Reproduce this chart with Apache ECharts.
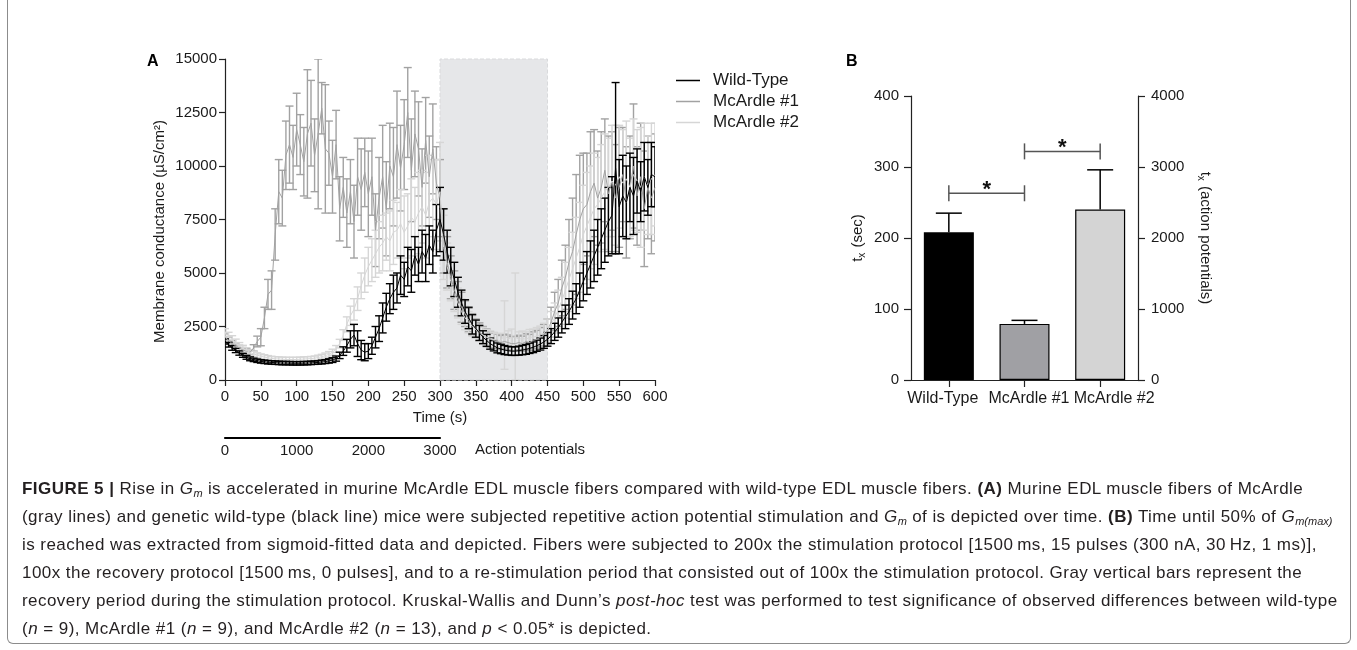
<!DOCTYPE html>
<html>
<head>
<meta charset="utf-8">
<script src="https://cdn.jsdelivr.net/npm/echarts@6/dist/echarts.min.js"></script>
<style>
html, body { margin: 0; padding: 0; background: #fff; width: 1357px; height: 650px; overflow: hidden; }
#chart { position: absolute; left: 0; top: 0; width: 1357px; height: 470px; }
#frame { position: absolute; left: 7px; top: -10px; width: 1344px; height: 654px; border: 1.5px solid #8c8c8c; border-top: none; border-radius: 0 0 6px 6px; box-sizing: border-box; pointer-events: none; }
#caption { position: absolute; left: 22px; top: 475px; font-family: 'Liberation Sans', Arial, sans-serif; font-size: 17px; letter-spacing: 0.45px; line-height: 28px; color: #231f20; white-space: nowrap; }
#caption sub { font-size: 11px; vertical-align: -3px; line-height: 0; letter-spacing: 0; }
</style>
</head>
<body>
<div id="chart"></div>
<div id="frame"></div>
<div id="caption">
<b>FIGURE 5 |</b> Rise in <i>G<sub>m</sub></i> is accelerated in murine McArdle EDL muscle fibers compared with wild-type EDL muscle fibers. <b>(A)</b> Murine EDL muscle fibers of McArdle<br>
(gray lines) and genetic wild-type (black line) mice were subjected repetitive action potential stimulation and <i>G<sub>m</sub></i> of is depicted over time. <b>(B)</b> Time until 50% of <i>G<sub>m(max)</sub></i><br>
is reached was extracted from sigmoid-fitted data and depicted. Fibers were subjected to 200x the stimulation protocol [1500&thinsp;ms, 15 pulses (300 nA, 30&thinsp;Hz, 1 ms)],<br>
100x the recovery protocol [1500&thinsp;ms, 0 pulses], and to a re-stimulation period that consisted out of 100x the stimulation protocol. Gray vertical bars represent the<br>
recovery period during the stimulation protocol. Kruskal-Wallis and Dunn’s <i>post-hoc</i> test was performed to test significance of observed differences between wild-type<br>
(<i>n</i> = 9), McArdle #1 (<i>n</i> = 9), and McArdle #2 (<i>n</i> = 13), and <i>p</i> &lt; 0.05* is depicted.
</div>
<script>
// panel A: samples every 5 s, 0..600 s
const timeStep = 5;

const wtMean = [
  1800, 1650, 1500, 1380, 1260, 1150, 1060, 990, 940, 900, 870, 850,
  830, 820, 810, 800, 790, 790, 785, 780, 780, 780, 785, 790,
  800, 810, 820, 840, 860, 890, 930, 1000, 1150, 1350, 1600, 1900,
  2100, 1700, 1400, 1300, 1350, 1600, 2000, 2400, 2900, 3400, 3800, 4100,
  4300, 4900, 4700, 5300, 5100, 5800, 5400, 6000, 5700, 6300, 6000, 7000,
  7500, 6800, 6000, 5300, 4700, 4100, 3600, 3200, 2900, 2600, 2400, 2200,
  2000, 1850, 1700, 1600, 1500, 1450, 1400, 1370, 1350, 1350, 1370, 1400,
  1430, 1480, 1530, 1600, 1680, 1780, 1900, 2050, 2250, 2450, 2700, 2950,
  3200, 3500, 3800, 4200, 4600, 5000, 5400, 5800, 6200, 6600, 7000, 7400,
  7700, 9900, 8100, 8600, 8300, 9000, 8600, 9300, 8800, 9500, 9000, 9600,
  9500
];
const wtErr = [
  120, 110, 110, 100, 100, 90, 90, 90, 80, 80, 80, 80,
  80, 80, 80, 80, 80, 80, 80, 80, 80, 80, 80, 80,
  80, 80, 80, 90, 90, 100, 110, 120, 150, 200, 300, 400,
  500, 600, 450, 400, 350, 400, 500, 600, 700, 650, 700, 800,
  700, 900, 800, 900, 1000, 900, 800, 1000, 1100, 900, 1000, 1200,
  1500, 1200, 1000, 900, 800, 700, 600, 550, 500, 450, 400, 350,
  300, 280, 260, 240, 230, 220, 210, 200, 200, 200, 210, 220,
  230, 240, 250, 260, 280, 300, 320, 350, 400, 450, 500, 550,
  600, 650, 700, 800, 900, 1000, 1100, 1200, 1300, 1400, 1500, 1600,
  1800, 4000, 2200, 1900, 1700, 1600, 1800, 1500, 1400, 1600, 1300, 1500,
  1400
];

const mc1Mean = [
  2000, 1850, 1700, 1600, 1500, 1400, 1350, 1300, 1500, 1800, 2000, 2900,
  4000, 4200, 6800, 8800, 8500, 10500, 11000, 10400, 11700, 11000, 10200, 11500,
  12000, 10500, 11500, 12700, 10800, 10600, 9500, 11000, 8000, 9000, 7800, 8800,
  7400, 9500, 8900, 9700, 8700, 9500, 7000, 8500, 9500, 8000, 10000, 9500,
  11000, 9900, 11000, 12500, 9800, 11500, 10800, 9000, 11200, 9500, 10800, 9200,
  8500, 6500, 5500, 4800, 4200, 3800, 3400, 3100, 2800, 2600, 2400, 2250,
  2100, 2000, 1900, 1850, 1800, 1750, 1800, 1750, 1700, 1700, 1750, 1700,
  1800, 1750, 1850, 1900, 2000, 2100, 2300, 2700, 3200, 3600, 4300, 4800,
  5500, 6000, 6800, 7500, 8000, 8200, 8800, 9200, 8500, 9000, 9800, 8700,
  9300, 8500, 9000, 9600, 8300, 9000, 10000, 8600, 9500, 8000, 9000, 8500,
  9000
];
const mc1Err = [
  150, 150, 140, 130, 120, 120, 110, 110, 150, 250, 400, 500,
  700, 900, 1200, 1500, 1300, 1600, 1800, 1500, 1700, 1400, 1600, 3000,
  2000, 1700, 3500, 1200, 3000, 1500, 1700, 1600, 1500, 1400, 1600, 1500,
  1700, 1800, 1900, 1600, 2000, 1800, 1700, 1900, 2400, 2200, 2000, 2300,
  2500, 2000, 2100, 2100, 2400, 2000, 2200, 1800, 2000, 1900, 2100, 1700,
  1800, 1500, 1200, 1000, 900, 800, 700, 600, 550, 500, 450, 420,
  400, 380, 360, 350, 340, 330, 340, 350, 330, 330, 340, 350,
  360, 380, 400, 420, 450, 500, 550, 700, 900, 1100, 1300, 1500,
  2000, 2500, 2800, 3000, 2600, 2400, 2800, 2500, 2200, 2600, 2400, 2700,
  2300, 2500, 2800, 2200, 2600, 2400, 2900, 2300, 2500, 2700, 2400, 2600,
  2500
];

const mc2Mean = [
  2200, 2050, 1900, 1750, 1600, 1480, 1380, 1290, 1220, 1160, 1110, 1070,
  1040, 1010, 990, 980, 970, 960, 960, 960, 960, 970, 980, 990,
  1000, 1020, 1050, 1090, 1140, 1200, 1300, 1450, 1700, 2100, 2600, 3000,
  3300, 3800, 4400, 4900, 5300, 5600, 5900, 6200, 6400, 6700, 6500, 6900,
  7000, 7300, 6900, 7200, 7600, 7400, 7800, 8100, 7700, 8300, 8500, 8200,
  8800, 6200, 5300, 4600, 4000, 3600, 3200, 2900, 2700, 2500, 2350, 2200,
  2100, 2000, 1950, 1900, 1850, 1850, 2100, 1900, 2000, 2000, 1900, 1950,
  1900, 2000, 2000, 2050, 2100, 2200, 2350, 2600, 2900, 3300, 3700, 4200,
  4700, 5200, 5700, 6200, 6800, 7200, 7600, 8000, 8200, 8500, 8800, 9000,
  9300, 9100, 9500, 9200, 9400, 9000, 9600, 9300, 9000, 9500, 9100, 9400,
  9600
];
const mc2Err = [
  200, 180, 170, 160, 150, 140, 130, 120, 120, 110, 110, 110,
  100, 100, 100, 100, 100, 100, 100, 100, 100, 100, 100, 100,
  100, 100, 110, 110, 120, 130, 140, 160, 200, 250, 350, 450,
  500, 550, 600, 800, 900, 1000, 1100, 1200, 1300, 1100, 1400, 1500,
  1300, 1600, 1700, 1500, 1800, 1600, 1900, 1700, 2000, 2200, 1800, 2100,
  2300, 1500, 1100, 900, 800, 700, 600, 550, 500, 450, 400, 380,
  360, 350, 340, 330, 320, 330, 1600, 400, 380, 3000, 350, 340,
  350, 360, 380, 400, 420, 450, 500, 600, 700, 900, 1100, 1300,
  1500, 1700, 1900, 2100, 2300, 2500, 2400, 2600, 2200, 2500, 2700, 2300,
  2600, 2800, 2400, 2500, 2700, 2300, 2600, 2400, 2800, 2500, 2300, 2600,
  2400
];

const recoveryWindow = [300, 450];
const apTicks = [0, 3000];

// panel B
const groups = ['Wild-Type', 'McArdle #1', 'McArdle #2'];
const txMean = [208, 79, 240];
const txErr = [27, 5, 56];
const sigPairs = [[0, 1, 263], [1, 2, 322]];

const FONT = "'Liberation Sans', Arial, sans-serif";
const TXT = '#1a1a1a';
const C_WT = '#000000', C_M1 = '#a2a2a2', C_M2 = '#d6d6d6';
const barColors = ['#000000', '#a0a0a4', '#d4d4d4'];

const myChart = echarts.init(document.getElementById('chart'));

const toLine = arr => arr.map((v, i) => [i * timeStep, v]);
const toErr = (m, e) => m.map((v, i) => [i * timeStep, v, e[i]]);
const plain = v => String(v);

function errRender(params, api) {
  const x = api.value(0), m = api.value(1), e = api.value(2);
  const hi = api.coord([x, m + e]);
  const lo = api.coord([x, Math.max(m - e, 0)]);
  const w = 4;
  const style = { stroke: api.visual('color'), lineWidth: 1.4, fill: null };
  return {
    type: 'group',
    children: [
      { type: 'line', shape: { x1: hi[0], y1: hi[1], x2: lo[0], y2: lo[1] }, style },
      { type: 'line', shape: { x1: hi[0] - w, y1: hi[1], x2: hi[0] + w, y2: hi[1] }, style },
      { type: 'line', shape: { x1: lo[0] - w, y1: lo[1], x2: lo[0] + w, y2: lo[1] }, style }
    ]
  };
}

function barErrRender(params, api) {
  const i = api.value(0), m = api.value(1), e = api.value(2);
  const base = api.coord([i, m]);
  const top = api.coord([i, m + e]);
  const style = { stroke: '#000', lineWidth: 1.5, fill: null };
  return {
    type: 'group',
    children: [
      { type: 'line', shape: { x1: base[0], y1: base[1], x2: top[0], y2: top[1] }, style },
      { type: 'line', shape: { x1: top[0] - 13, y1: top[1], x2: top[0] + 13, y2: top[1] }, style }
    ]
  };
}

function sigRender(params, api) {
  const a = api.coord([api.value(0), api.value(2)]);
  const b = api.coord([api.value(1), api.value(2)]);
  const style = { stroke: '#555', lineWidth: 1.5, fill: null };
  return {
    type: 'group',
    children: [
      { type: 'line', shape: { x1: a[0], y1: a[1], x2: b[0], y2: b[1] }, style },
      { type: 'line', shape: { x1: a[0], y1: a[1] - 8, x2: a[0], y2: a[1] + 8 }, style },
      { type: 'line', shape: { x1: b[0], y1: b[1] - 8, x2: b[0], y2: b[1] + 8 }, style },
      { type: 'text', x: (a[0] + b[0]) / 2, y: a[1] - 3,
        style: { text: '*', fontSize: 22, fontWeight: 'bold', fontFamily: FONT, fill: '#111', align: 'center', verticalAlign: 'middle' } }
    ]
  };
}

const tickStyle = len => ({ show: true, length: len, lineStyle: { color: '#222', width: 1.2 } });
const labelStyle = (margin, size) => ({ color: TXT, fontSize: size || 15, fontFamily: FONT, margin, formatter: plain });
const axisBase = {
  axisLine: { show: true, lineStyle: { color: '#222', width: 1.2 } },
  splitLine: { show: false }
};

const lineSeries = (name, data, color) => ({
  name, type: 'line', data: toLine(data), xAxisIndex: 0, yAxisIndex: 0,
  showSymbol: false, symbol: 'none', lineStyle: { color, width: 1 }, itemStyle: { color },
  z: 3, animation: false
});
const errSeries = (mean, err, color) => ({
  type: 'custom', data: toErr(mean, err), xAxisIndex: 0, yAxisIndex: 0,
  renderItem: errRender, itemStyle: { color }, clip: true, z: 3, animation: false,
  encode: { x: 0, y: 1 }
});

const subRich = { sub: { fontSize: 10, color: TXT, fontFamily: FONT, padding: [9, 1, 0, 0] } };
const catRich = {
  p0: { fontSize: 16, color: TXT, fontFamily: FONT, padding: [0, 12, 0, 0] },
  p1: { fontSize: 16, color: TXT, fontFamily: FONT, padding: [0, 0, 0, 9] },
  p2: { fontSize: 16, color: TXT, fontFamily: FONT, padding: [0, 0, 0, 28] }
};

const option = {
  animation: false,
  textStyle: { fontFamily: FONT },
  grid: [
    { left: 225, top: 59, width: 430, height: 321 },
    { left: 225, top: 437, width: 215, height: 1 },
    { left: 911, top: 96, width: 227, height: 284 }
  ],
  legend: {
    data: ['Wild-Type', 'McArdle #1', 'McArdle #2'],
    left: 676, top: 72, padding: 0, orient: 'vertical', icon: 'rect',
    itemWidth: 24, itemHeight: 1.5, itemGap: 4,
    textStyle: { fontSize: 17, color: TXT, fontFamily: FONT, lineHeight: 16, padding: [0, 0, 0, 8] }
  },
  xAxis: [
    Object.assign({}, axisBase, {
      gridIndex: 0, type: 'value', min: 0, max: 600, interval: 50,
      axisTick: tickStyle(6), axisLabel: labelStyle(9),
      name: 'Time (s)', nameLocation: 'middle', nameGap: 30,
      nameTextStyle: { fontSize: 15, color: TXT, fontFamily: FONT }
    }),
    {
      gridIndex: 1, type: 'value', min: apTicks[0], max: apTicks[1], interval: 1000,
      axisLine: { show: true, lineStyle: { color: '#000', width: 2.2 } },
      axisTick: { show: false }, splitLine: { show: false },
      axisLabel: labelStyle(5)
    },
    Object.assign({}, axisBase, {
      gridIndex: 2, type: 'category', data: groups,
      axisTick: Object.assign(tickStyle(7), { alignWithLabel: true }),
      axisLabel: {
        color: TXT, fontSize: 16, fontFamily: FONT, margin: 11, interval: 0,
        formatter: (v, i) => '{p' + i + '|' + v + '}', rich: catRich
      }
    })
  ],
  yAxis: [
    Object.assign({}, axisBase, {
      gridIndex: 0, type: 'value', min: 0, max: 15000, interval: 2500,
      axisTick: tickStyle(6), axisLabel: labelStyle(8),
      name: 'Membrane conductance (µS/cm²)', nameLocation: 'middle', nameGap: 58,
      nameTextStyle: { fontSize: 15, color: TXT, fontFamily: FONT, padding: [0, 24, 0, 0] }
    }),
    { gridIndex: 1, type: 'value', show: false },
    Object.assign({}, axisBase, {
      gridIndex: 2, type: 'value', min: 0, max: 400, interval: 100, position: 'left',
      axisTick: tickStyle(7), axisLabel: labelStyle(12),
      name: 't{sub|x} (sec)', nameLocation: 'middle', nameGap: 44,
      nameTextStyle: { fontSize: 15, color: TXT, fontFamily: FONT, rich: subRich }
    }),
    Object.assign({}, axisBase, {
      gridIndex: 2, type: 'value', min: 0, max: 4000, interval: 1000, position: 'right',
      axisTick: tickStyle(7), axisLabel: labelStyle(13),
      name: 't{sub|x} (action potentials)', nameLocation: 'middle', nameGap: 58, nameRotate: -90,
      nameTextStyle: { fontSize: 15, color: TXT, fontFamily: FONT, rich: subRich }
    })
  ],
  graphic: [
    { type: 'text', left: 147, top: 54, style: { text: 'A', fontSize: 16, fontWeight: 'bold', fill: '#000', fontFamily: FONT } },
    { type: 'text', left: 846, top: 54, style: { text: 'B', fontSize: 16, fontWeight: 'bold', fill: '#000', fontFamily: FONT } },
    { type: 'text', left: 475, top: 442, style: { text: 'Action potentials', fontSize: 15, fill: TXT, fontFamily: FONT } }
  ],
  series: [
    {
      type: 'line', data: [], xAxisIndex: 0, yAxisIndex: 0, z: 1, silent: true,
      markArea: {
        silent: true,
        itemStyle: { color: '#e6e7e9', borderColor: '#d9dadc', borderWidth: 1, borderType: 'dashed' },
        data: [[{ xAxis: recoveryWindow[0], yAxis: 0 }, { xAxis: recoveryWindow[1], yAxis: 15000 }]]
      }
    },
    errSeries(mc1Mean, mc1Err, C_M1),
    lineSeries('McArdle #1', mc1Mean, C_M1),
    errSeries(mc2Mean, mc2Err, C_M2),
    lineSeries('McArdle #2', mc2Mean, C_M2),
    errSeries(wtMean, wtErr, C_WT),
    lineSeries('Wild-Type', wtMean, C_WT),
    {
      type: 'bar', xAxisIndex: 2, yAxisIndex: 2, barWidth: 50,
      data: txMean.map((v, i) => ({ value: v, itemStyle: { color: barColors[i] } })),
      itemStyle: { borderColor: '#000', borderWidth: 1.2 }, z: 2
    },
    {
      type: 'custom', xAxisIndex: 2, yAxisIndex: 2, renderItem: barErrRender, z: 3,
      data: txMean.map((v, i) => [i, v, txErr[i]]), encode: { x: 0, y: 1 }
    },
    {
      type: 'custom', xAxisIndex: 2, yAxisIndex: 2, renderItem: sigRender, z: 3,
      data: sigPairs, encode: { x: [0, 1], y: 2 }
    }
  ]
};

option && myChart.setOption(option);
</script>
</body>
</html>
